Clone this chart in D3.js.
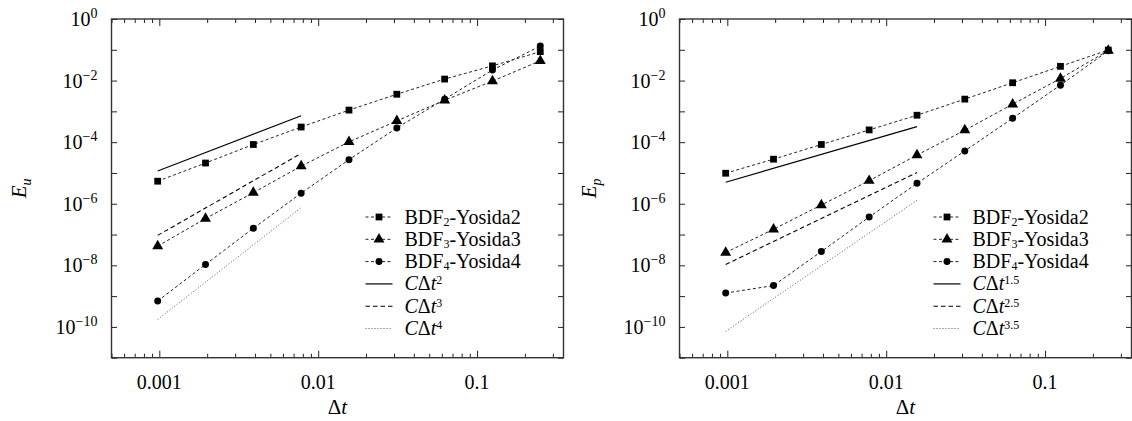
<!DOCTYPE html>
<html>
<head>
<meta charset="utf-8">
<script src="https://cdn.jsdelivr.net/npm/d3@7"></script>
<style>
  body { margin: 0; background: #fff; }
  svg { font-family: "Liberation Serif", "DejaVu Serif", serif; }
</style>
</head>
<body>
<svg id="chart" width="1132" height="421"></svg>
<script>
// time steps 1/1024 ... 1/4
var dt = [1/1024, 1/512, 1/256, 1/128, 1/64, 1/32, 1/16, 1/8, 1/4];

// velocity errors E_u
var euBDF2 = [5.4e-6, 2.1e-5, 8.4e-5, 3.1e-4, 1.1e-3, 3.6e-3, 1.12e-2, 3.0e-2, 8.7e-2];
var euBDF3 = [4.2e-8, 3.3e-7, 2.3e-6, 1.66e-5, 1.02e-4, 4.9e-4, 2.3e-3, 9.6e-3, 4.4e-2];
var euBDF4 = [6.9e-10, 1.07e-8, 1.6e-7, 2.2e-6, 2.7e-5, 2.9e-4, 2.5e-3, 2.2e-2, 1.32e-1];

// pressure errors E_p
var epBDF2 = [9.8e-6, 2.8e-5, 8.4e-5, 2.5e-4, 7.5e-4, 2.5e-3, 8.5e-3, 2.9e-2, 9.8e-2];
var epBDF3 = [2.6e-8, 1.48e-7, 9.1e-7, 5.6e-6, 3.8e-5, 2.45e-4, 1.7e-3, 1.17e-2, 9.5e-2];
var epBDF4 = [1.26e-9, 2.2e-9, 2.8e-8, 3.7e-7, 4.6e-6, 5.2e-5, 6.0e-4, 7.1e-3, 9.3e-2];

// reference slopes, end points
var refUx = [1/1024, 1/128];
var refU2 = [1.16e-5, 7.2e-4];
var refU3 = [9.4e-8, 4.3e-5];
var refU4 = [1.74e-10, 7.5e-7];
var refPx = [1/1024, 1/64];
var refP15 = [5.0e-6, 3.2e-4];
var refP25 = [1.07e-8, 1.03e-5];
var refP35 = [7.2e-11, 1.3e-6];

var xTicks = [0.001, 0.01, 0.1];
var xTickLabels = ["0.001", "0.01", "0.1"];
var yTickExp = [0, -2, -4, -6, -8, -10];

var svg = d3.select("#chart");
var W = 452, H = 338.7;

function zip(xs, ys) {
  return xs.map(function(x, i) { return [x, ys[i]]; });
}

function drawPanel(left, top, yName, series, refs, refExps) {
  var g = svg.append("g").attr("transform", "translate(" + left + "," + top + ")");

  var x = d3.scaleLog().domain([0.0005, 0.35]).range([0, W]);
  var y = d3.scaleLog().domain([1e-11, 1]).range([H, 0]);

  // minor/major ticks
  var minor = [];
  [0.0001, 0.001, 0.01, 0.1].forEach(function(d) {
    for (var k = 2; k <= 9; k++) {
      var v = d * k;
      if (v > 0.0005 * 0.999 && v < 0.35) minor.push(v);
    }
  });

  g.append("g").attr("transform", "translate(0," + H + ")")
    .call(d3.axisBottom(x).tickValues(minor).tickSize(-4).tickFormat(""));
  g.append("g").attr("transform", "translate(0," + H + ")")
    .call(d3.axisBottom(x).tickValues(xTicks).tickSize(-7).tickFormat(""));
  g.append("g")
    .call(d3.axisTop(x).tickValues(minor).tickSize(-4).tickFormat(""));
  g.append("g")
    .call(d3.axisTop(x).tickValues(xTicks).tickSize(-7).tickFormat(""));

  var yDecades = d3.range(-11, 1).map(function(e) { return Math.pow(10, e); });
  g.append("g").call(d3.axisLeft(y).tickValues(yDecades).tickSize(-5.5).tickFormat(""));
  g.append("g").attr("transform", "translate(" + W + ",0)")
    .call(d3.axisRight(y).tickValues(yDecades).tickSize(-5.5).tickFormat(""));

  g.selectAll(".domain").remove();
  g.selectAll(".tick line").attr("stroke", "#222").attr("stroke-width", 1);

  g.append("rect").attr("width", W).attr("height", H)
    .attr("fill", "none").attr("stroke", "#333").attr("stroke-width", 1.4);

  // x tick labels
  g.selectAll(".xlab").data(xTicks).enter().append("text")
    .attr("x", function(d) { return x(d); })
    .attr("y", H + 31)
    .attr("text-anchor", "middle")
    .attr("font-size", 20)
    .text(function(d, i) { return xTickLabels[i]; });

  // y tick labels 10^e
  yTickExp.forEach(function(e) {
    var t = g.append("text")
      .attr("x", -14).attr("y", y(Math.pow(10, e)) + 7)
      .attr("text-anchor", "end").attr("font-size", 20);
    t.append("tspan").text("10");
    t.append("tspan").attr("dy", -8).attr("font-size", 14)
      .text(e === 0 ? "0" : "\u2212" + (-e));
  });

  // axis labels
  var xl = g.append("text").attr("x", W / 2).attr("y", H + 56)
    .attr("text-anchor", "middle").attr("font-size", 21);
  xl.append("tspan").text("\u0394");
  xl.append("tspan").attr("font-style", "italic").text("t");

  var yl = g.append("text")
    .attr("transform", "translate(" + (yName === "u" ? -86 : -84) + "," + (H / 2) + ") rotate(-90)")
    .attr("text-anchor", "middle").attr("font-size", 21);
  yl.append("tspan").attr("font-style", "italic").text("E");
  yl.append("tspan").attr("font-style", "italic").attr("font-size", 14).attr("dy", 5).text(yName);

  var line = d3.line().x(function(d) { return x(d[0]); }).y(function(d) { return y(d[1]); });

  var refStyles = [
    { dash: null, color: "#000", w: 1.2 },
    { dash: "4.5,3", color: "#000", w: 1.1 },
    { dash: "1,2", color: "#555", w: 1 }
  ];

  refs.forEach(function(r, i) {
    g.append("path").datum(zip(r.x, r.y))
      .attr("d", line).attr("fill", "none")
      .attr("stroke", refStyles[i].color)
      .attr("stroke-width", refStyles[i].w)
      .attr("stroke-dasharray", refStyles[i].dash);
  });

  var symbols = [
    d3.symbol().type(d3.symbolSquare).size(46),
    d3.symbol().type(d3.symbolTriangle).size(52),
    d3.symbol().type(d3.symbolCircle).size(38)
  ];

  series.forEach(function(s, i) {
    g.append("path").datum(zip(dt, s))
      .attr("d", line).attr("fill", "none")
      .attr("stroke", "#222").attr("stroke-width", 1)
      .attr("stroke-dasharray", "3,2.5");
    g.selectAll(".m" + i).data(zip(dt, s)).enter().append("path")
      .attr("transform", function(d) { return "translate(" + x(d[0]) + "," + y(d[1]) + ")"; })
      .attr("d", symbols[i]).attr("fill", "#000");
  });

  // legend
  var lg = g.append("g").attr("transform", "translate(254,198)");
  var rowH = 22.3;
  var names = ["2", "3", "4"];
  for (var i = 0; i < 3; i++) {
    var yy = i * rowH;
    lg.append("line").attr("x1", 0).attr("x2", 27).attr("y1", yy).attr("y2", yy)
      .attr("stroke", "#222").attr("stroke-dasharray", "3,2.5");
    lg.append("path").attr("transform", "translate(13.5," + yy + ")")
      .attr("d", symbols[i]).attr("fill", "#000");
    var t = lg.append("text").attr("x", 39).attr("y", yy + 6.5).attr("font-size", 20);
    t.append("tspan").text("BDF");
    t.append("tspan").attr("font-size", 12).attr("dy", 2).text(names[i]);
    t.append("tspan").attr("dy", -2).text("-Yosida" + names[i]);
  }
  for (var j = 0; j < 3; j++) {
    var yy2 = (j + 3) * rowH;
    lg.append("line").attr("x1", 0).attr("x2", 27).attr("y1", yy2).attr("y2", yy2)
      .attr("stroke", refStyles[j].color).attr("stroke-width", refStyles[j].w)
      .attr("stroke-dasharray", refStyles[j].dash);
    var t2 = lg.append("text").attr("x", 39).attr("y", yy2 + 6.5).attr("font-size", 20);
    t2.append("tspan").attr("font-style", "italic").text("C");
    t2.append("tspan").text("\u0394");
    t2.append("tspan").attr("font-style", "italic").text("t");
    t2.append("tspan").attr("font-size", 12).attr("dy", -6).text(refExps[j]);
  }
}

drawPanel(111.5, 19, "u", [euBDF2, euBDF3, euBDF4],
  [{ x: refUx, y: refU2 }, { x: refUx, y: refU3 }, { x: refUx, y: refU4 }],
  ["2", "3", "4"]);

drawPanel(679.5, 19, "p", [epBDF2, epBDF3, epBDF4],
  [{ x: refPx, y: refP15 }, { x: refPx, y: refP25 }, { x: refPx, y: refP35 }],
  ["1.5", "2.5", "3.5"]);
</script>
</body>
</html>
